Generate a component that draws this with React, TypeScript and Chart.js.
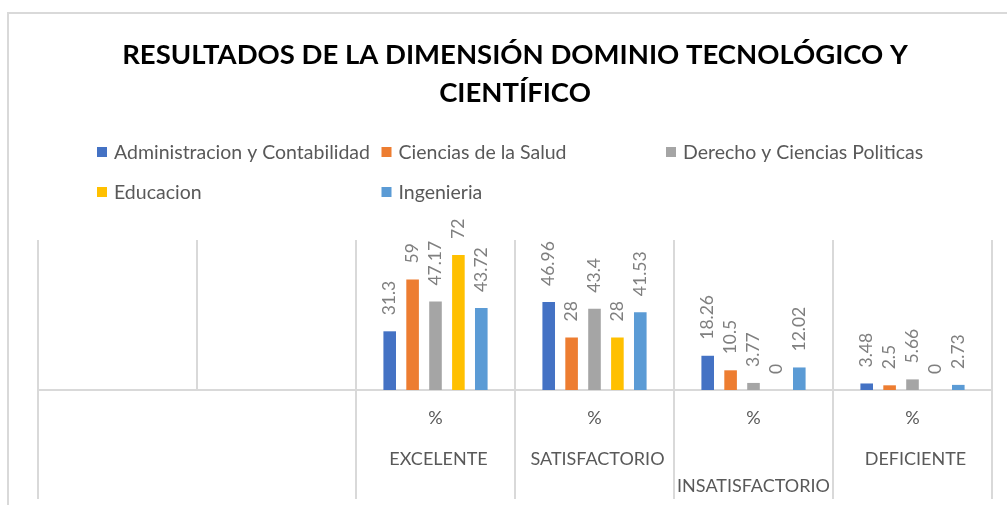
import React, { useEffect, useRef } from "react";
import { Chart, registerables } from "chart.js";

Chart.register(...registerables);

const categories = ["", "", "%", "%", "%", "%"];
const groups = ["", "", "EXCELENTE", "SATISFACTORIO", "INSATISFACTORIO", "DEFICIENTE"];
const seriesNames = [
  "Administracion y Contabilidad",
  "Ciencias de la Salud",
  "Derecho y Ciencias Politicas",
  "Educacion",
  "Ingenieria",
];
const administracion = [null, null, 31.3, 46.96, 18.26, 3.48];
const cienciasSalud = [null, null, 59, 28, 10.5, 2.5];
const derecho = [null, null, 47.17, 43.4, 3.77, 5.66];
const educacion = [null, null, 72, 28, 0, 0];
const ingenieria = [null, null, 43.72, 41.53, 12.02, 2.73];
const seriesColors = ["#4472C4", "#ED7D31", "#A5A5A5", "#FFC000", "#5B9BD5"];
const titleLines = ["RESULTADOS DE LA DIMENSIÓN DOMINIO TECNOLÓGICO Y", "CIENTÍFICO"];

const FONT = 'Lato, "Liberation Sans", sans-serif';
const GRID = "#D9D9D9";

const customPlugin = {
  id: "excelLook",
  beforeDraw(chart: any) {
    const { ctx, width, height, chartArea } = chart;
    ctx.save();
    ctx.fillStyle = "#ffffff";
    ctx.fillRect(0, 0, width, height);

    // frame
    ctx.strokeStyle = GRID;
    ctx.lineWidth = 2;
    ctx.beginPath();
    ctx.moveTo(8, height + 5);
    ctx.lineTo(8, 13);
    ctx.lineTo(width + 5, 13);
    ctx.stroke();

    // title
    ctx.fillStyle = "#000000";
    ctx.font = `bold 27.5px ${FONT}`;
    ctx.textAlign = "center";
    ctx.textBaseline = "middle";
    titleLines.forEach((t, i) => ctx.fillText(t, 515, 55 + i * 38));

    // legend
    ctx.font = `19.5px ${FONT}`;
    ctx.textAlign = "left";
    chart.data.datasets.forEach((ds: any, i: number) => {
      const col = i % 3;
      const row = Math.floor(i / 3);
      const x = 97 + col * 284.5;
      const y = 152 + row * 40;
      ctx.fillStyle = ds.backgroundColor;
      ctx.fillRect(x, y - 5, 10, 10);
      ctx.fillStyle = "#595959";
      ctx.fillText(ds.label, x + 17, y + 1);
    });

    // grid lines
    const xs = chart.scales.x;
    const ys = chart.scales.y;
    const n = categories.length;
    const half = (xs.getPixelForValue(1) - xs.getPixelForValue(0)) / 2;
    const y0 = Math.round(ys.getPixelForValue(0));
    ctx.strokeStyle = GRID;
    ctx.lineWidth = 2;
    for (let i = 0; i <= n; i++) {
      const x = Math.round(i < n ? xs.getPixelForValue(i) - half : xs.getPixelForValue(n - 1) + half);
      ctx.beginPath();
      ctx.moveTo(x, chartArea.top);
      ctx.lineTo(x, y0);
      ctx.stroke();
      if (i === 0 || i === n || groups[i - 1] !== groups[i]) {
        ctx.beginPath();
        ctx.moveTo(x, y0);
        ctx.lineTo(x, y0 + 109);
        ctx.stroke();
      }
    }
    ctx.beginPath();
    ctx.moveTo(chartArea.left, y0);
    ctx.lineTo(chartArea.right, y0);
    ctx.stroke();

    // axis labels
    ctx.fillStyle = "#595959";
    ctx.font = `18px ${FONT}`;
    ctx.textAlign = "center";
    ctx.textBaseline = "middle";
    const catW = half * 2;
    for (let i = 0; i < n; i++) {
      const cx = xs.getPixelForValue(i);
      if (categories[i]) ctx.fillText(categories[i], cx, y0 + 28);
      if (groups[i]) {
        const w = ctx.measureText(groups[i]).width;
        const stagger = w > catW * 0.9;
        ctx.fillText(groups[i], cx + (stagger ? 0 : 3), y0 + (stagger ? 96 : 69));
      }
    }
    ctx.restore();
  },
  afterDatasetsDraw(chart: any) {
    const { ctx } = chart;
    ctx.save();
    ctx.fillStyle = "#7F7F7F";
    ctx.font = `17.5px ${FONT}`;
    ctx.textAlign = "left";
    ctx.textBaseline = "middle";
    chart.data.datasets.forEach((ds: any, di: number) => {
      const meta = chart.getDatasetMeta(di);
      meta.data.forEach((bar: any, i: number) => {
        const v = ds.data[i];
        if (v === null || v === undefined) return;
        ctx.save();
        ctx.translate(bar.x, bar.y - 16);
        ctx.rotate(-Math.PI / 2);
        ctx.fillText(String(v), 0, 0);
        ctx.restore();
      });
    });
    ctx.restore();
  },
};

export default function App() {
  const ref = useRef<HTMLCanvasElement>(null);
  useEffect(() => {
    if (!ref.current) return;
    const values = [administracion, cienciasSalud, derecho, educacion, ingenieria];
    const chart = new Chart(ref.current, {
      type: "bar",
      data: {
        labels: categories.map((c, i) => [c, groups[i]]),
        datasets: values.map((d, i) => ({
          label: seriesNames[i],
          data: d,
          backgroundColor: seriesColors[i],
          borderWidth: 0,
          categoryPercentage: 0.72,
          barPercentage: 0.55,
        })),
      },
      options: {
        responsive: false,
        animation: false,
        devicePixelRatio: 1,
        layout: { padding: { left: 38, right: 15, top: 240, bottom: 115 } },
        plugins: {
          legend: { display: false },
          title: { display: false },
          tooltip: { enabled: false },
        },
        scales: {
          x: { display: false },
          y: { display: false, min: 0, max: 80 },
        },
      },
      plugins: [customPlugin],
    });
    return () => chart.destroy();
  }, []);
  return (
    <div style={{ position: "absolute", left: 0, top: 0, width: 1007, height: 505 }}>
      <canvas ref={ref} width={1007} height={505} style={{ display: "block" }} />
    </div>
  );
}
